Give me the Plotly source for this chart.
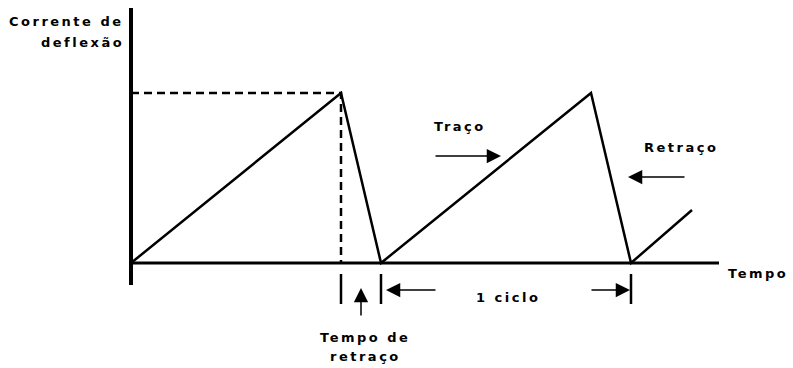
import plotly.graph_objects as go

# sawtooth deflection current (time in cycles, current normalised to peak)
tempo = [0, 0.84, 1.0, 1.84, 2.0, 2.244]
corrente = [0, 1, 0, 1, 0, 0.312]

t_pico = 0.84        # end of first trace
t_ciclo = [1.0, 2.0]  # start / end of one cycle

W, H = 793, 368
# pixel -> data mapping: origin at (131, 263), 250 px per cycle, 170 px per unit current
x0px, y0px, sx, sy = 131, 263, 250, 170
xr = [(0 - x0px) / sx, (W - x0px) / sx]
yr = [(y0px - H) / sy, (y0px - 0) / sy]


def px(x):
    return (x - x0px) / sx


def py(y):
    return (y0px - y) / sy


fonte = dict(family="DejaVu Sans, Verdana, sans-serif", size=13, color="black")


def sp(txt):
    return '<span style="letter-spacing:2.5px"><b>' + txt + "</b></span>"


fig = go.Figure()

fig.add_trace(go.Scatter(x=tempo, y=corrente, mode="lines",
                         line=dict(color="black", width=2.5), hoverinfo="skip"))

# dashed guides to the first peak
fig.add_trace(go.Scatter(x=[0, t_pico, t_pico], y=[1, 1, 0], mode="lines",
                         line=dict(color="black", width=2.5, dash="8px,5px"), hoverinfo="skip"))

shapes = [
    dict(type="line", x0=0, x1=0, y0=py(285), y1=py(8), line=dict(color="black", width=4)),
    dict(type="line", x0=0, x1=px(719), y0=0, y1=0, line=dict(color="black", width=3)),
]
for t in [t_pico] + t_ciclo:
    shapes.append(dict(type="line", x0=t, x1=t, y0=py(274), y1=py(304),
                       line=dict(color="black", width=2.5)))

ann = [
    dict(x=px(126), y=py(21), text=sp("Corrente de"), xanchor="right", showarrow=False),
    dict(x=px(126), y=py(42), text=sp("deflexão"), xanchor="right", showarrow=False),
    dict(x=px(726), y=py(273), text=sp("Tempo"), xanchor="left", showarrow=False),
    dict(x=px(460), y=py(126), text=sp("Traço"), showarrow=False),
    dict(x=px(681), y=py(147), text=sp("Retraço"), showarrow=False),
    dict(x=px(508), y=py(297), text=sp("1 ciclo"), showarrow=False),
    dict(x=px(365), y=py(337), text=sp("Tempo de"), showarrow=False),
    dict(x=px(365), y=py(356), text=sp("retraço"), showarrow=False),
]

setas = [
    # (tail_x, tail_y, head_x, head_y) in pixels of the reference
    (434, 156, 501, 156),
    (686, 177, 628, 177),
    (361, 317, 361, 288),
    (437, 290, 386, 290),
    (590, 290, 630, 290),
]
for ax, ay, hx, hy in setas:
    ann.append(dict(x=px(hx), y=py(hy), ax=px(ax), ay=py(ay), axref="x", ayref="y", text="",
                    showarrow=True, arrowhead=2, arrowsize=1.9, arrowwidth=1.5,
                    arrowcolor="black", standoff=0, startstandoff=0))

fig.update_layout(
    width=W, height=H, margin=dict(l=0, r=0, t=0, b=0),
    paper_bgcolor="white", plot_bgcolor="white",
    showlegend=False, font=fonte,
    xaxis=dict(range=xr, visible=False, fixedrange=True),
    yaxis=dict(range=yr, visible=False, fixedrange=True),
    shapes=shapes, annotations=ann,
)

fig.write_html("out.html", config={"displayModeBar": False},
               post_script="document.body.style.margin='0';")
